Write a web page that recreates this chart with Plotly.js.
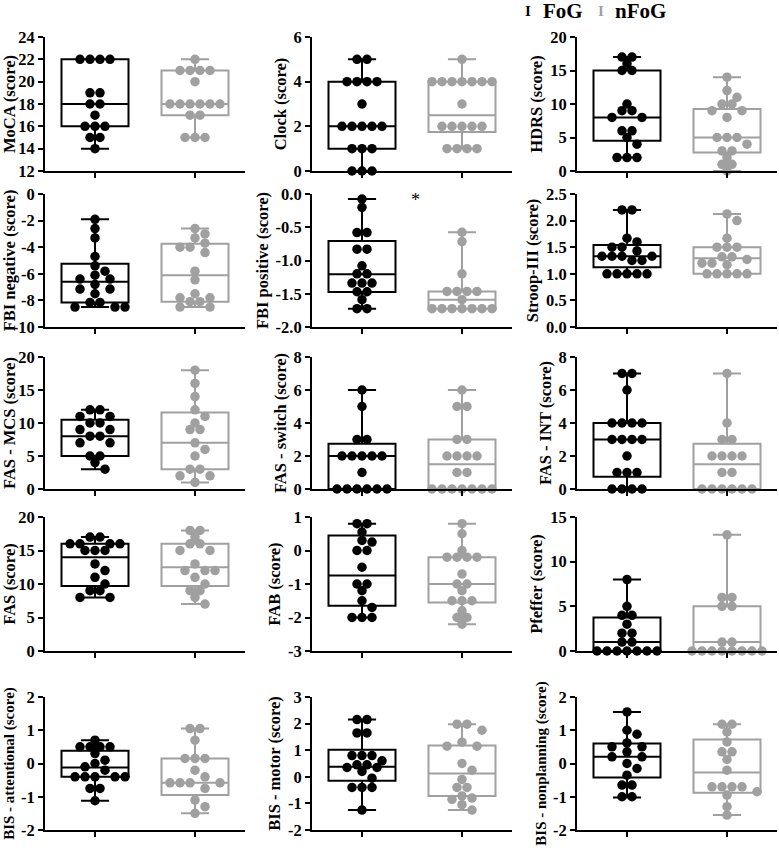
<!DOCTYPE html>
<html><head><meta charset="utf-8">
<script src="https://cdn.plot.ly/plotly-3.0.1.min.js"></script>
<style>html,body{margin:0;padding:0;background:#fff}</style>
</head><body><div id="chart" style="width:779px;height:852px"></div>
<script>
// ---------- data ----------
const titles = ['MoCA (score)','Clock (score)','HDRS (score)',
  'FBI negative (score)','FBI positive (score)','Stroop-III (score)',
  'FAS - MCS (score)','FAS - switch (score)','FAS - INT (score)',
  'FAS (score)','FAB (score)','Pfeffer (score)',
  'BIS - attentional (score)','BIS - motor (score)','BIS - nonplanning (score)'];
const groups = ['FoG','nFoG'];
const groupColors = ['#000000','#a0a0a0'];
const yRanges = [[12,24],[0,6],[0,20],[-10,0],[-2,0],[0,2.5],[0,20],[0,8],[0,8],[0,20],[-3,1],[0,15],[-2,2],[-2,3],[-2,2]];
const yDticks = [2,2,5,2,0.5,0.5,5,2,2,5,1,5,1,1,1];
const yDecimals = [0,0,0,0,1,1,0,0,0,0,0,0,0,0,0];

const fogPoints = [
  [22,22,22,22,19,19,18,18,17,16,16,16,15,15,14],
  [5,5,4,4,4,4,3,2,2,2,2,2,1,1,1,0,0,0],
  [17,17,16,15,15,10,9,9,8,8,6,6,5,4,2,2,2],
  [-1.9,-2.6,-3.3,-4.7,-5.4,-5.8,-6.1,-6.4,-6.4,-6.8,-7.15,-7.15,-7.5,-8.15,-8.15,-8.5,-8.5,-8.5],
  [-0.075,-0.2,-0.58,-0.58,-0.83,-0.83,-1.08,-1.2,-1.2,-1.34,-1.34,-1.34,-1.47,-1.47,-1.59,-1.725,-1.725],
  [2.2,2.2,1.67,1.6,1.5,1.5,1.43,1.33,1.33,1.33,1.33,1.25,1.25,1,1,1,1,1],
  [12,12,11,11,10,10,9,9,8,8,7,7,5,5,4,3],
  [6,5,3,3,2,2,2,2,2,1,0,0,0,0,0,0],
  [7,7,6,4,4,4,4,3,3,3,3,2,1,1,1,0,0,0,0],
  [17,17,16,16,16,16,15,15,15,13,12,11,10,9,9,8,8],
  [0.8,0.8,0.55,0.3,0.25,0,0,-0.5,-1.0,-1.0,-1.2,-1.5,-1.7,-2,-2,-2],
  [8,5,4,4,3,2,2,1,1,0,0,0,0,0,0,0],
  [0.7,0.5,0.5,0.5,0.5,0.3,0.1,0,-0.1,-0.2,-0.4,-0.4,-0.4,-0.4,-0.4,-0.75,-0.75,-1.12],
  [2.15,2.15,1.65,1.65,0.8,0.8,0.8,0.6,0.45,0.45,0.35,0.35,0.2,-0.05,-0.4,-0.4,-0.4,-1.25],
  [1.55,1.0,0.88,0.62,0.5,0.5,0.35,0.2,0.2,0.0,-0.15,-0.35,-0.65,-0.65,-1.0,-1.0]
];
const nfogPoints = [
  [22,21,21,21,21,20,18,18,18,18,18,18,17,17,15,15,15],
  [5,4,4,4,4,4,4,4,3,2,2,2,2,2,1,1,1,1],
  [14,12,11,10,10,9,9,8,5,5,5,4,3,3,2,1,1,0],
  [-2.6,-3.0,-3.3,-3.7,-4.0,-4.0,-4.4,-5.8,-6.45,-7.5,-7.8,-7.8,-8.1,-8.1,-8.5,-8.5],
  [-0.575,-0.715,-1.2,-1.465,-1.465,-1.465,-1.465,-1.59,-1.725,-1.725,-1.725,-1.725,-1.725,-1.725,-1.725],
  [2.125,2.0,1.67,1.5,1.5,1.5,1.32,1.32,1.27,1.2,1.2,1.17,1,1,1,1,1],
  [18,16,14,12,11,10,9,9,7,6,5,3,3,2,2,1],
  [6,5,5,3,3,2,2,2,2,1,1,0,0,0,0,0,0,0],
  [7,4,3,3,2,2,2,2,1,1,0,0,0,0,0,0],
  [18,18,17,16,16,15,15,13,12,12,12,11,10,9,9,8,7],
  [0.8,0.5,0,-0.2,-0.2,-0.2,-0.2,-0.7,-1,-1,-1.2,-1.5,-1.5,-1.5,-1.8,-2,-2,-2.2],
  [13,6,6,5,5,1,1,0,0,0,0,0,0,0,0],
  [1.05,1.05,0.7,0.15,0.15,0.15,-0.2,-0.4,-0.58,-0.58,-0.58,-0.58,-0.75,-1.1,-1.3,-1.5],
  [1.98,1.98,1.75,1.3,1.15,1.15,0.5,0.25,-0.1,-0.4,-0.4,-0.72,-0.8,-0.85,-1.05,-1.25],
  [1.18,1.18,0.95,0.65,0.35,0.35,0.12,-0.2,-0.7,-0.7,-0.7,-0.7,-0.85,-0.95,-1.3,-1.55]
];
// box statistics: [min, q1, median, q3, max]
const fogStats = [
  [14,16,18,22,22],[0,1,2,4,5],[2,4.5,8,15,17],[-8.5,-8.15,-6.6,-5.25,-1.9],
  [-1.725,-1.475,-1.205,-0.705,-0.075],[1,1.125,1.33,1.54,2.2],[3,5,8,10.5,12],
  [0,0,2,2.75,6],[0,0.75,3,4,7],[8,9.7,14,16,17],[-2,-1.65,-0.75,0.45,0.8],
  [0,0,1,3.75,8],[-1.12,-0.4,-0.12,0.38,0.7],[-1.25,-0.15,0.38,1.02,2.15],
  [-1.02,-0.42,0.2,0.6,1.55]
];
const nfogStats = [
  [15,17,18,21,22],[1,1.75,2.5,4,5],[0,2.75,5,9.25,14],[-8.5,-8.1,-6.1,-3.75,-2.6],
  [-1.725,-1.725,-1.59,-1.465,-0.575],[1,1,1.29,1.5,2.125],[1,3,7,11.6,18],
  [0,0,1.5,3,6],[0,0,1.5,2.75,7],[7,9.7,12.5,16,18],[-2.2,-1.55,-1,-0.2,0.8],
  [0,0,1,5,13],[-1.5,-0.95,-0.58,0.15,1.05],[-1.25,-0.72,0.12,1.18,1.98],
  [-1.55,-0.88,-0.27,0.72,1.18]
];

// ---------- layout geometry ----------
const W = 779, H = 852;
const colPx = [[45,245],[312,512],[577,777]];
const rowPx = [[37,171],[194,327],[357,489],[517,651],[697,830]];
const FONT = 'Liberation Serif, Times New Roman, serif';
const DOT = 10; // px spacing between dot centres

function swarm(vals, pxX, pxY) {
  // beeswarm: equal values try to form centred rows, slots skipped where dots would overlap
  const sorted = vals.slice().sort((a,b)=>b-a);
  const grpList = [];
  sorted.forEach(v => {
    const g = grpList[grpList.length-1];
    if (g && Math.abs(g.v - v) < 1e-9) g.n++; else grpList.push({v:v, n:1});
  });
  const placed = [], outX = [], outY = [];
  grpList.forEach(g => {
    const y = g.v * pxY;
    const cand = [];
    for (let k = 0; k < 40; k++) {
      if (g.n % 2 === 1) { if (k === 0) cand.push(0); else cand.push(k*DOT, -k*DOT); }
      else cand.push((k+0.5)*DOT, -(k+0.5)*DOT);
    }
    for (let i = 0; i < g.n; i++) {
      for (const x of cand) {
        if (placed.every(p => (p[0]-x)**2 + (p[1]-y)**2 >= (DOT*0.8)**2)) {
          placed.push([x,y]); outX.push(x/pxX); outY.push(g.v); break;
        }
      }
    }
  });
  return {dx: outX, y: outY};
}

const traces = [], layout = {
  width: W, height: H, margin: {l:0, r:0, t:0, b:0},
  paper_bgcolor: '#fff', plot_bgcolor: '#fff', showlegend: false,
  font: {family: FONT, color: '#000'}, annotations: []
};
const pointTraces = [];

titles.forEach((title, i) => {
  const r = Math.floor(i/3), c = i % 3;
  const sfx = i === 0 ? '' : String(i+1);
  const xa = 'x' + sfx, ya = 'y' + sfx;
  const [lo, hi] = yRanges[i];
  const pxX = (colPx[c][1]-colPx[c][0]) / 2;
  const pxY = (rowPx[r][1]-rowPx[r][0]) / (hi - lo);
  const tv = [], tt = [];
  for (let v = lo; v <= hi + 1e-9; v += yDticks[i]) {
    const vv = Math.round(v*1000)/1000;
    tv.push(vv); tt.push(vv.toFixed(yDecimals[i]));
  }
  const titleSize = title.length > 22 ? 15 : 16.5;
  layout['xaxis' + sfx] = {
    domain: [colPx[c][0]/W, colPx[c][1]/W], range: [-0.5, 1.5], anchor: ya,
    tickvals: [0,1], ticktext: ['',''], ticks: 'outside', ticklen: 5, tickwidth: 2,
    tickcolor: '#000', showline: true, linewidth: 2, linecolor: '#000',
    showgrid: false, zeroline: false, fixedrange: true
  };
  layout['yaxis' + sfx] = {
    domain: [1 - rowPx[r][1]/H, 1 - rowPx[r][0]/H], range: [lo, hi], anchor: xa,
    tickvals: tv, ticktext: tt, ticks: 'outside', ticklen: 5, tickwidth: 2,
    tickcolor: '#000', showline: true, linewidth: 2, linecolor: '#000',
    showgrid: false, zeroline: false, fixedrange: true,
    tickfont: {family: FONT, size: 16.5, color: '#000', weight: 'bold'},
    title: {text: title, standoff: 3, font: {family: FONT, size: titleSize, color: '#000', weight: 'bold'}}
  };
  [fogStats[i], nfogStats[i]].forEach((s, g) => {
    traces.push({
      type: 'box', x: [g], lowerfence: [s[0]], q1: [s[1]], median: [s[2]], q3: [s[3]], upperfence: [s[4]],
      boxpoints: false, width: 0.67, whiskerwidth: 0.42,
      line: {color: groupColors[g], width: 2}, fillcolor: 'rgba(0,0,0,0)',
      name: groups[g], xaxis: xa, yaxis: ya, hoverinfo: 'skip'
    });
  });
  [fogPoints[i], nfogPoints[i]].forEach((vals, g) => {
    const sw = swarm(vals, pxX, pxY);
    pointTraces.push({
      type: 'scatter', mode: 'markers', x: sw.dx.map(d => g + d), y: sw.y,
      marker: {size: 9.5, color: groupColors[g], line: {width: 0}},
      cliponaxis: false, name: groups[g], xaxis: xa, yaxis: ya
    });
  });
});

// significance marker on FBI positive
layout.annotations.push({xref: 'x5', yref: 'y5', x: 0.53, y: -0.09, text: '*',
  showarrow: false, font: {family: FONT, size: 18, color: '#000'}});

// legend
const legendPx = [[528, 563], [601, 640]];
groups.forEach((g, k) => {
  layout.annotations.push({xref: 'paper', yref: 'paper', x: legendPx[k][0]/W, y: 1 - 11/H,
    xanchor: 'center', yanchor: 'middle', text: '<b>I</b>', showarrow: false,
    font: {family: FONT, size: 15, color: groupColors[k]}});
  layout.annotations.push({xref: 'paper', yref: 'paper', x: legendPx[k][1]/W, y: 1 - 11/H,
    xanchor: 'center', yanchor: 'middle', text: '<b>' + g + '</b>', showarrow: false,
    font: {family: FONT, size: 21, color: '#000'}});
});

Plotly.newPlot('chart', traces.concat(pointTraces), layout, {staticPlot: true});
</script></body></html>
